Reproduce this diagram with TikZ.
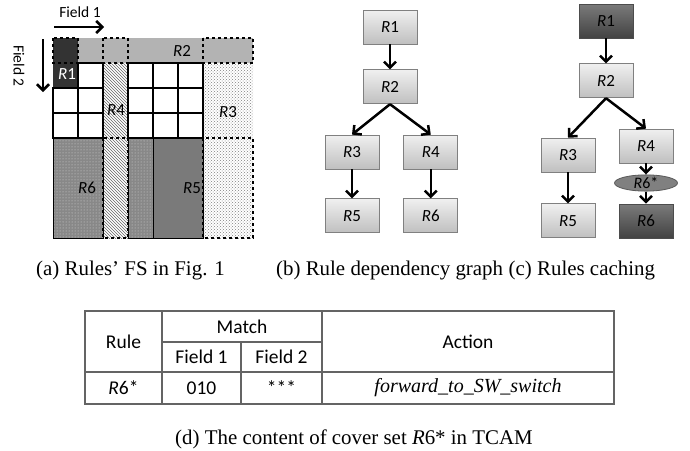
\documentclass[tikz,border=0pt]{standalone}
\usepackage{fontspec}
\setmainfont{Liberation Serif}
\newfontfamily\calfont{Carlito}
\usetikzlibrary{arrows.meta,positioning,patterns,shapes.geometric}
\definecolor{rulegray}{RGB}{128,128,128}
\definecolor{rone}{RGB}{51,51,51}
\definecolor{rtwo}{RGB}{179,179,179}
\definecolor{rfive}{RGB}{122,122,122}
\definecolor{rsix}{RGB}{136,136,136}
\definecolor{tabline}{RGB}{100,100,100}
\newcommand{\rn}[1]{\textit{R}#1}
\tikzset{
  >={Straight Barb[length=6pt,width=12pt]},
  rule/.style={
    rectangle, draw=rulegray, line width=0.8pt,
    top color=white!94!black, bottom color=black!25,
    minimum width=54pt, minimum height=34pt, inner sep=0pt,
    font=\calfont\fontsize{17}{20}\selectfont
  },
  cached/.style={rule, draw=black!70, top color=black!52, bottom color=black!74},
  cover/.style={
    ellipse, draw=black!65, fill=black!50, line width=0.8pt,
    minimum width=63pt, minimum height=14pt, inner sep=0pt,
    font=\calfont\fontsize{16}{18}\selectfont
  },
  dep/.style={->, line width=2.5pt},
  cell/.style={draw=black, line width=1.3pt, fill=white},
  overlap/.style={draw=black, dashed, line width=1.3pt},
  lbl/.style={font=\calfont\fontsize{17}{20}\selectfont, inner sep=0pt},
  caption/.style={font=\rmfamily\fontsize{20.9}{24}\selectfont, anchor=base west, inner sep=0pt},
  tabtext/.style={font=\calfont\fontsize{19.5}{22}\selectfont, inner sep=0pt},
}

\begin{document}
\begin{tikzpicture}[x=1pt, y=-1pt]
\useasboundingbox (0,0) rectangle (690,450);
% --- (a) flow space ---
\fill[rtwo] (53,38) rectangle (253,63);                 % R2
\fill[rone] (53,38) rectangle (78,88);                  % R1
\fill[pattern=north west lines, pattern color=black!60, preaction={fill=white}]
  (103,63) rectangle (128,238);                          % R4
\fill[pattern=crosshatch dots, pattern color=black!50, preaction={fill=white}]
  (203,63) rectangle (253,238);                          % R3
\fill[pattern=dots, pattern color=white!85!black, preaction={fill=rsix}]
  (53,138) rectangle (103,238);                          % R6
\fill[pattern=dots, pattern color=white!85!black, preaction={fill=rsix}]
  (128,138) rectangle (153,238);
\fill[rfive] (153,138) rectangle (203,238);             % R5
\foreach \c/\r in {1/1,0/2,1/2,0/3,1/3,3/1,4/1,5/1,3/2,4/2,5/2,3/3,4/3,5/3}
  \draw[cell] ({53+25*\c},{38+25*\r}) rectangle ++(25,25);
\draw[line width=1pt] (53,138) rectangle (103,238);
\draw[line width=1pt] (128,138) rectangle (203,238);
\draw[line width=1pt] (153,138) -- (153,238);
\draw[line width=1pt] (103,63) -- (103,138) (128,63) -- (128,138);
\draw[line width=1pt] (53,88) -- (53,238);
% overlaps
\draw[overlap] (53,38) rectangle (78,63);
\draw[overlap] (103,38) rectangle (128,63);
\draw[overlap] (203,38) rectangle (253,63);
\draw[overlap] (103,138) rectangle (128,238);
\draw[overlap] (203,138) rectangle (253,238);
% labels
\node[lbl, text=white] (a1) at (67,74) {\rn1};
\node[lbl] (a2) at (182,51) {\rn2};
\node[lbl] (a3) at (228,112) {\rn3};
\node[lbl] (a4) at (116,110) {\rn4};
\node[lbl] (a5) at (192,188) {\rn5};
\node[lbl] (a6) at (87,188) {\rn6};
\node[lbl, font=\calfont\fontsize{15.5}{18}\selectfont] (f1) at (80,12) {Field 1};
\node[lbl, font=\calfont\fontsize{15.5}{18}\selectfont, rotate=-90] (f2) at (19,66) {Field 2};
\coordinate (f1s) at (54,27);
\coordinate (f1e) at (104,27);
\coordinate (f2s) at (43,39);
\coordinate (f2e) at (43,92);
\draw[dep] (f1s) -- (f1e);
\draw[dep] (f2s) -- (f2e);

% --- (b) dependency graph ---
\node[rule] (b1) at (390,27) {\rn1};
\node[rule, below=25pt of b1] (b2) {\rn2};
\node[rule] (b3) at (352,152) {\rn3};
\node[rule, right=24pt of b3] (b4) {\rn4};
\node[rule, below=29pt of b3] (b5) {\rn5};
\node[rule, below=29pt of b4] (b6) {\rn6};
\draw[dep] (b1) -- (b2);
\draw[dep] (b2.south) -- (b3.north);
\draw[dep] (b2.south) -- (b4.north);
\draw[dep] (b3) -- (b5);
\draw[dep] (b4) -- (b6);

% --- (c) caching ---
\node[cached] (c1) at (606,21) {\rn1};
\node[rule, below=25pt of c1] (c2) {\rn2};
\node[rule] (c3) at (568,155) {\rn3};
\node[rule] (c4) at (646,146) {\rn4};
\node[cover] (c6s) at (646,183) {\rn{6*}};
\node[rule, below=31pt of c3] (c5) {\rn5};
\node[cached] (c6) at (646,221) {\rn6};
\draw[dep] (c1) -- (c2);
\draw[dep] (c2.south) -- (c3.north);
\draw[dep] (c2.south) -- (c4.north);
\draw[dep] (c3) -- (c5);
\draw[dep] (c4) -- (c6s);
\draw[dep] (c6s) -- (c6);

% --- captions ---
\node[caption] (capa) at (36,275) {(a) Rules’ FS in Fig. 1};
\node[caption] (capb) at (276,275) {(b) Rule dependency graph};
\node[caption] (capc) at ([xshift=5.2pt]capb.base east) {(c) Rules caching};

% --- (d) TCAM table ---
\draw[tabline, line width=1.2pt] (85,311) rectangle (614,404);
\draw[tabline, line width=1.2pt] (85,372) -- (614,372)
  (162,311) -- (162,404) (322,311) -- (322,404)
  (162,342) -- (322,342) (241,342) -- (241,404);
\node[tabtext] (trule) at (123.5,341.5) {Rule};
\node[tabtext] (tmatch) at (242,326.5) {Match};
\node[tabtext] (tf1) at (201.5,357) {Field 1};
\node[tabtext] (tf2) at (281.5,357) {Field 2};
\node[tabtext] (taction) at (468,341.5) {Action};
\node[tabtext] (tr6) at (123.5,388) {\rn{6*}};
\node[tabtext] (tv1) at (201.5,388) {010};
\node[tabtext] (tv2) at (281.5,388) {***};
\node[font=\rmfamily\itshape\fontsize{20}{24}\selectfont, inner sep=0pt] (tact) at (468,388) {forward\_to\_SW\_switch};
\node[caption, anchor=base] (capd) at (354,444) {(d) The content of cover set \textit{R}6* in TCAM};
\end{tikzpicture}
\end{document}
